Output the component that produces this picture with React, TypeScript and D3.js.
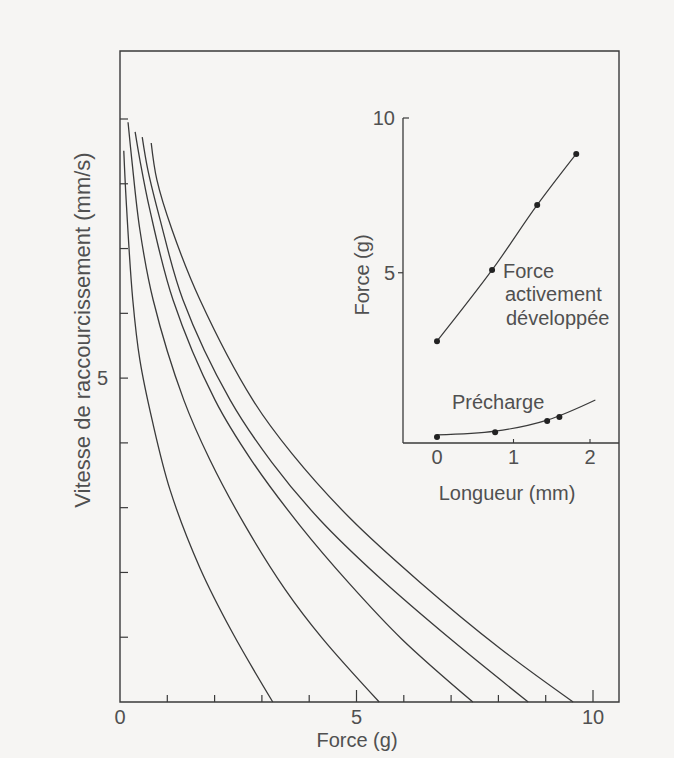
import React from 'react';
import * as d3 from 'd3';

// ---- Main chart data: shortening velocity (mm/s) vs force (g) ----
const forceMinorTicks = [1, 2, 3, 4, 6, 7, 8, 9];
const forceMajorTicks = [5, 10];
const forceTickLabels = [0, 5, 10];
const speedTicks = [1, 2, 3, 4, 5, 6, 7, 8, 9];
const speedTickLabels = [5];

const curve1: [number, number][] = [[0.08, 8.51], [0.13, 7.75], [0.27, 6.21], [0.42, 5.28], [0.68, 4.35], [1.06, 3.27], [1.69, 2.07], [2.37, 1.08], [3.23, 0]];
const curve2: [number, number][] = [[0.17, 8.95], [0.25, 8.37], [0.42, 7.29], [0.7, 6.21], [1.35, 4.66], [1.9, 3.74], [2.64, 2.73], [3.49, 1.74], [4.27, 0.99], [5.48, 0]];
const curve3: [number, number][] = [[0.32, 8.8], [0.42, 8.37], [0.63, 7.6], [1.12, 6.21], [2.01, 4.66], [2.79, 3.72], [3.81, 2.72], [4.86, 1.82], [5.96, 0.97], [7.46, 0]];
const curve4: [number, number][] = [[0.47, 8.72], [0.59, 8.21], [0.85, 7.44], [1.33, 6.21], [2.33, 4.66], [3.21, 3.7], [4.23, 2.81], [5.5, 1.91], [7.04, 0.94], [8.63, 0]];
const curve5: [number, number][] = [[0.66, 8.63], [0.78, 8.06], [1.1, 7.29], [1.69, 6.21], [2.81, 4.66], [3.64, 3.83], [4.86, 2.84], [6.34, 1.85], [8.03, 0.83], [9.58, 0]];
const curves = [curve1, curve2, curve3, curve4, curve5];

// ---- Inset data: force (g) vs length (mm) ----
const lengthTicks = [1, 2];
const lengthTickLabels = [0, 1, 2];
const insetForceLabels = [5, 10];
const activeDots: [number, number][] = [[0, 2.79], [0.72, 5.09], [1.31, 7.19], [1.82, 8.84]];
const prechargeDots: [number, number][] = [[0, -0.31], [0.76, -0.15], [1.44, 0.21], [1.6, 0.34]];
const prechargeFit: [number, number][] = [[0, -0.24], [0.76, -0.12], [1.44, 0.24], [2.07, 0.89]];

const FONT = "'Liberation Sans', Arial, Helvetica, sans-serif";
const INK = '#3a3a3a';
const TEXT = '#505050';

export default function App() {
  const W = 674, H = 758;
  const x = d3.scaleLinear().domain([0, 10]).range([120, 593]);
  const y = d3.scaleLinear().domain([0, 9]).range([702, 119]);
  const frameTop = 51, frameRight = 619;

  const ix = d3.scaleLinear().domain([0, 2]).range([437, 590]);
  const iy = d3.scaleLinear().domain([0, 10]).range([427.5, 118]);
  const insetLeft = 403, insetBottom = 443;

  const line = d3.line<[number, number]>()
    .x(d => x(d[0])).y(d => y(d[1]))
    .curve(d3.curveCatmullRom.alpha(0.5));
  const iline = d3.line<[number, number]>()
    .x(d => ix(d[0])).y(d => iy(d[1]))
    .curve(d3.curveCatmullRom.alpha(0.5));

  return (
    <svg width={W} height={H} style={{ position: 'absolute', left: 0, top: 0 }} fontFamily={FONT}>
      <rect x={0} y={0} width={W} height={H} fill="#f6f5f3" />
      {/* frame */}
      <path d={`M${x(0)},${frameTop}H${frameRight}V${y(0)}H${x(0)}Z`} fill="none" stroke={INK} strokeWidth={1.4} />
      {/* x ticks */}
      {forceMinorTicks.map(t => (
        <line key={'xm' + t} x1={x(t)} x2={x(t)} y1={y(0)} y2={y(0) - 7} stroke={INK} strokeWidth={1.2} />
      ))}
      {forceMajorTicks.map(t => (
        <line key={'xM' + t} x1={x(t)} x2={x(t)} y1={y(0)} y2={y(0) - 12} stroke={INK} strokeWidth={1.2} />
      ))}
      {forceTickLabels.map(t => (
        <text key={'xl' + t} x={x(t)} y={724} textAnchor="middle" fontSize={20} fill={TEXT}>{t}</text>
      ))}
      <text x={357} y={747} textAnchor="middle" fontSize={20} fill={TEXT}>Force (g)</text>
      {/* y ticks */}
      {speedTicks.map(t => (
        <line key={'yt' + t} x1={x(0)} x2={x(0) + 8} y1={y(t)} y2={y(t)} stroke={INK} strokeWidth={1.2} />
      ))}
      {speedTickLabels.map(t => (
        <text key={'yl' + t} x={108} y={y(t) + 7} textAnchor="end" fontSize={20} fill={TEXT}>{t}</text>
      ))}
      <text transform="translate(90,330) rotate(-90)" textAnchor="middle" fontSize={22} fill={TEXT}>
        Vitesse de raccourcissement (mm/s)
      </text>
      {/* curves */}
      {curves.map((c, i) => (
        <path key={'c' + i} d={line(c) || ''} fill="none" stroke={INK} strokeWidth={1.3} />
      ))}

      {/* inset axes */}
      <line x1={insetLeft} x2={insetLeft} y1={iy(10)} y2={insetBottom} stroke={INK} strokeWidth={1.3} />
      <line x1={insetLeft} x2={frameRight} y1={insetBottom} y2={insetBottom} stroke={INK} strokeWidth={1.3} />
      <line x1={insetLeft} x2={insetLeft + 6} y1={iy(10)} y2={iy(10)} stroke={INK} strokeWidth={1.2} />
      <line x1={insetLeft - 5} x2={insetLeft} y1={iy(5)} y2={iy(5)} stroke={INK} strokeWidth={1.2} />
      {lengthTicks.map(t => (
        <line key={'it' + t} x1={ix(t)} x2={ix(t)} y1={insetBottom} y2={insetBottom - 4} stroke={INK} strokeWidth={1.1} />
      ))}
      {lengthTickLabels.map(t => (
        <text key={'ixl' + t} x={ix(t)} y={464} textAnchor="middle" fontSize={20} fill={TEXT}>{t}</text>
      ))}
      {insetForceLabels.map(t => (
        <text key={'iyl' + t} x={395} y={iy(t) + 7} textAnchor="end" fontSize={20} fill={TEXT}>{t}</text>
      ))}
      <text x={507} y={500} textAnchor="middle" fontSize={20} fill={TEXT}>Longueur (mm)</text>
      <text transform="translate(369,275) rotate(-90)" textAnchor="middle" fontSize={20} fill={TEXT}>Force (g)</text>

      <path d={iline(activeDots) || ''} fill="none" stroke={INK} strokeWidth={1.2} />
      <path d={iline(prechargeFit) || ''} fill="none" stroke={INK} strokeWidth={1.2} />
      {activeDots.map((d, i) => (
        <circle key={'ad' + i} cx={ix(d[0])} cy={iy(d[1])} r={3} fill="#222" />
      ))}
      {prechargeDots.map((d, i) => (
        <circle key={'pd' + i} cx={ix(d[0])} cy={iy(d[1])} r={3} fill="#222" />
      ))}
      <text fontSize={20} fill={TEXT}>
        <tspan x={503} y={278}>Force</tspan>
        <tspan x={505} y={301}>activement</tspan>
        <tspan x={506} y={325}>développée</tspan>
      </text>
      <text x={452} y={409} fontSize={20} fill={TEXT}>Précharge</text>
    </svg>
  );
}
